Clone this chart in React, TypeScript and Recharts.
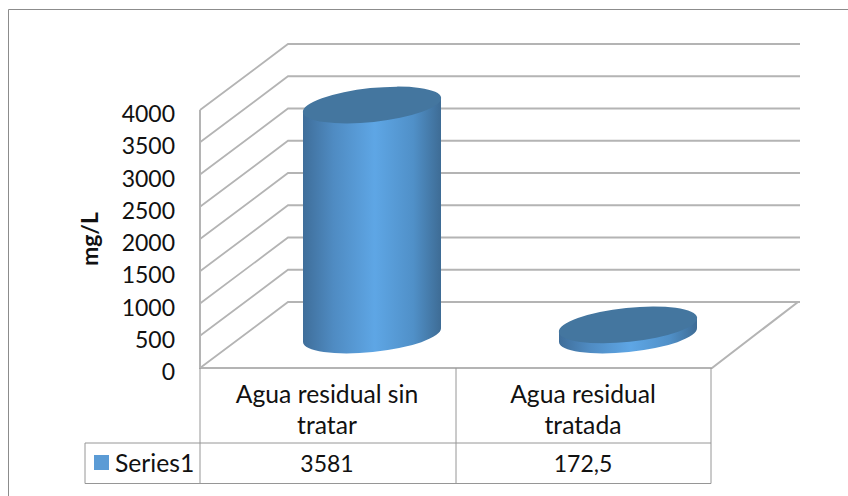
import { BarChart, Bar, XAxis, YAxis, CartesianGrid, Label } from 'recharts';

const categories = ['Agua residual sin tratar', 'Agua residual tratada'];
const categoryLines = [['Agua residual sin', 'tratar'], ['Agua residual', 'tratada']];
const seriesValues = [3581, 172.5];
const valueLabels = ['3581', '172,5'];
const yTicks = [0, 500, 1000, 1500, 2000, 2500, 3000, 3500, 4000];
const seriesName = 'Series1';

const chartData = categories.map((name, i) => ({ name, value: seriesValues[i], lines: categoryLines[i], label: valueLabels[i] }));

const FONT = 'Lato, Carlito, "Open Sans", sans-serif';
const GRID = '#b4b4b4';
const TABLE = '#969696';
const DEPTH_X = 88;
const DEPTH_Y = 66;
const FLOOR_Y = 368;
const RIGHT_X = 712;
const TILT = -6;

// gridline on the left wall and on the back wall
function WallLine({ x1, y1, x2 }: any) {
  return (
    <polyline
      points={`${x1},${y1} ${x1 + DEPTH_X},${y1 - DEPTH_Y} ${x2 + DEPTH_X},${y1 - DEPTH_Y}`}
      fill="none"
      stroke={GRID}
      strokeWidth={1.8}
    />
  );
}

// cylinder standing in the middle of the floor depth
function Cylinder({ x, y, width, height }: any) {
  const cx = x + width / 2 + DEPTH_X / 2;
  const top = y - DEPTH_Y / 2 + 1;
  const base = y + height - DEPTH_Y / 2;
  const rx = width / 2;
  const ry = 17;
  const dy = 7;
  return (
    <g>
      <path
        d={`M${cx - rx},${top + dy} L${cx - rx},${base + dy} A${rx},${ry} ${TILT} 0 0 ${cx + rx},${base - dy} L${cx + rx},${top - dy} Z`}
        fill="url(#cylinderFill)"
      />
      <ellipse cx={cx} cy={top} rx={rx + 0.5} ry={ry} transform={`rotate(${TILT} ${cx} ${top})`} fill="#44769f" />
    </g>
  );
}

function CategoryTick({ x, index }: any) {
  const row = chartData[index];
  return (
    <g fontFamily={FONT} fontSize={24.7} fill="#111" textAnchor="middle">
      <text x={x - 1} y={403}>{row.lines[0]}</text>
      <text x={x - 1} y={434}>{row.lines[1]}</text>
      <text x={x - 1} y={472} fontSize={23}>{row.label}</text>
    </g>
  );
}

export default function App() {
  return (
    <div style={{ position: 'absolute', left: 0, top: 0, width: 848, height: 496, background: '#fff' }}>
      <BarChart
        width={848}
        height={496}
        data={chartData}
        margin={{ top: 110, right: 136, bottom: 127, left: 0 }}
      >
        <defs>
          <linearGradient id="cylinderFill" x1="0" y1="0" x2="1" y2="0">
            <stop offset="0%" stopColor="#3f6e9a" />
            <stop offset="22%" stopColor="#4f8bc2" />
            <stop offset="52%" stopColor="#5ea6e5" />
            <stop offset="80%" stopColor="#5090c8" />
            <stop offset="100%" stopColor="#3e6c95" />
          </linearGradient>
        </defs>

        {/* chart frame, open at the bottom and right like the source crop */}
        <path d="M8.5,496 L8.5,9.5 L848,9.5" fill="none" stroke="#8c8c8c" strokeWidth={1} />

        <CartesianGrid vertical={false} syncWithTicks horizontal={(props: any) => <WallLine key={props.index} {...props} />} />

        {/* floor and left wall edges */}
        <path d={`M200,110 L200,${FLOOR_Y} L${RIGHT_X},${FLOOR_Y} L${RIGHT_X + DEPTH_X - 2},${FLOOR_Y - DEPTH_Y}`} fill="none" stroke={GRID} strokeWidth={2} />

        {/* data table */}
        <path
          d={`M200,${FLOOR_Y} V483.5 M456,${FLOOR_Y} V483.5 M711,${FLOOR_Y} V483.5 M85,443 H711 M85,483.5 H711 M85,443 V483.5`}
          fill="none"
          stroke={TABLE}
          strokeWidth={1}
        />
        <rect x={94} y={455} width={15} height={15} fill="#5b9bd5" />
        <text x={115} y={472} fontFamily={FONT} fontSize={24.7} fill="#111">{seriesName}</text>

        <XAxis dataKey="name" height={1} axisLine={false} tickLine={false} interval={0} tick={<CategoryTick />} />
        <YAxis
          width={200}
          domain={[0, 4000]}
          ticks={yTicks}
          interval={0}
          axisLine={false}
          tickLine={false}
          tickSize={0}
          tickMargin={25}
          tick={{ fontSize: 23, fontFamily: FONT, fill: '#111', dy: 4 }}
        >
          <Label value="mg/L" angle={-90} position="insideLeft" offset={90} style={{ fontFamily: FONT, fontSize: 23, fontWeight: 700, fill: '#111', textAnchor: 'middle' }} />
        </YAxis>
        <Bar dataKey="value" barSize={138} isAnimationActive={false} shape={<Cylinder />} />
      </BarChart>
    </div>
  );
}
